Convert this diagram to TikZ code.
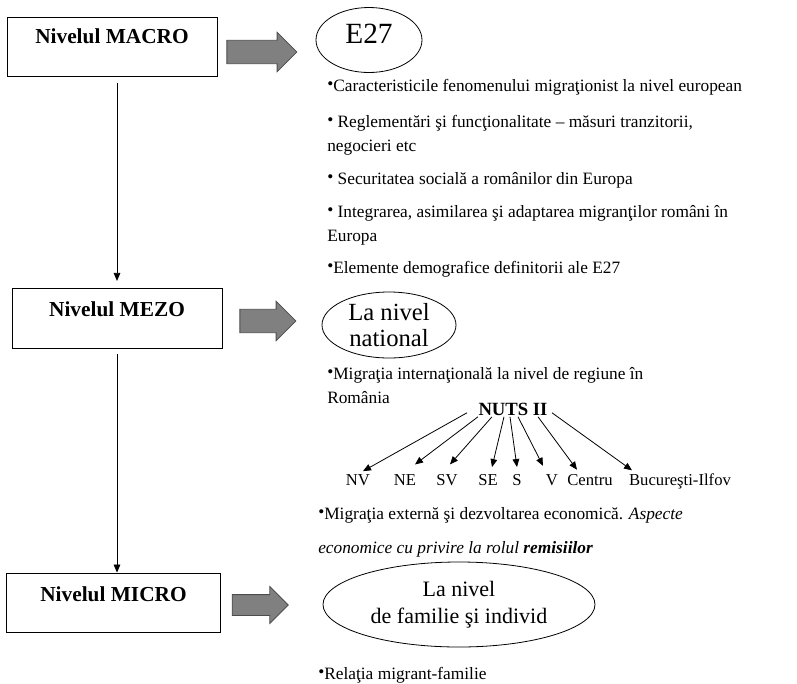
\documentclass[tikz,border=0pt]{standalone}
\usepackage{fontspec}
\setmainfont{Liberation Serif}
\usetikzlibrary{shapes.geometric,shapes.arrows,arrows.meta}

\newcommand{\blt}{\raisebox{1.3pt}{\textbullet}}

\tikzset{
    level/.style={draw, line width=0.7pt, minimum width=157.5pt, minimum height=44.25pt,
        font=\fontsize{16}{19}\selectfont\bfseries, text height=11pt, text depth=13pt},
    bigarrow/.style={single arrow, draw=black!70, fill=black!50, line width=0.6pt,
        inner xsep=0pt, inner ysep=8.5pt, text height=0pt, text depth=0pt,
        single arrow head extend=6pt},
    oval/.style={ellipse, draw, line width=0.6pt, inner sep=0pt},
    item/.style={anchor=base west, align=left, inner sep=0pt, font=\fontsize{13}{17.5}\selectfont},
    region/.style={anchor=base, inner sep=1pt, font=\fontsize{12.5}{15}\selectfont},
    down/.style={-{Triangle[length=6pt,width=5pt]}, line width=0.6pt}
}

\begin{document}
\begin{tikzpicture}[x=0.75pt, y=-0.75pt]
    \useasboundingbox (0,0) rectangle (797,683);

    %% The three levels
    \node[level, text depth=15pt] (macro) at (112,46.5) {Nivelul MACRO};
    \node[level, minimum height=45pt] (mezo) at (117,318) {Nivelul MEZO};
    \node[level, minimum width=160pt] (micro) at (113.5,602.5) {Nivelul MICRO};
    \draw[down, shorten <=5pt, shorten >=5pt] (macro.south -| mezo.north) -- (mezo.north);
    \draw[down, shorten <=4pt] (mezo.south) -- (mezo.south |- micro.north);

    %% Big grey arrows
    \node[bigarrow, minimum height=52.5pt] (macroarrow) at (256,52) {};
    \node[bigarrow, minimum height=42pt] (mezoarrow) at (262,321) {};
    \node[bigarrow, minimum height=42pt, inner ysep=7.5pt] (microarrow) at (255,605) {};

    %% Ovals
    \node[oval, minimum width=79.5pt, minimum height=48.75pt, font=\fontsize{22}{26}\selectfont,
        text height=15pt, text depth=10pt] (eu) at (369,40) {E27};
    \node[oval, minimum width=100.5pt, minimum height=49.5pt, align=center,
        font=\fontsize{18.5}{19}\selectfont] (national) at (389,325) {La nivel\\national};
    \node[oval, minimum width=204pt, minimum height=63.75pt, align=center,
        font=\fontsize{16.5}{20}\selectfont] (familie) at (459,604.5) {La nivel\\de familie şi individ};

    %% What is studied at the macro level
    \node[item] (eu1) at (327,91) {\blt Caracteristicile fenomenului migraţionist la nivel european};
    \node[item] (eu2) at (327,151) {\blt\ Reglementări şi funcţionalitate -- măsuri tranzitorii,\\negocieri etc};
    \node[item] (eu3) at (327,184) {\blt\ Securitatea socială a românilor din Europa};
    \node[item] (eu4) at (327,241) {\blt\ Integrarea, asimilarea şi adaptarea migranţilor români în\\Europa};
    \node[item] (eu5) at (327,273) {\blt Elemente demografice definitorii ale E27};

    %% Mezo level
    \node[item] (nat1) at (327,403) {\blt Migraţia internaţională la nivel de regiune în\\România};
    \node[anchor=base, inner sep=1pt, fill=white, font=\fontsize{14}{16}\selectfont\bfseries] (nuts) at (513,415) {NUTS II};
    \node[region] (nv) at (358,485) {NV};
    \node[region] (ne) at (405,485) {NE};
    \node[region] (sv) at (447,485) {SV};
    \node[region] (se) at (488,485) {SE};
    \node[region] (s) at (517,485) {S};
    \node[region] (v) at (552,485) {V};
    \node[region] (centru) at (590,485) {Centru};
    \node[region] (bi) at (680,485) {Bucureşti-Ilfov};
    \draw[down] ([xshift=-34.5pt,yshift=3pt]nuts.south) -- ([xshift=3.75pt,yshift=1pt]nv.north);
    \draw[down] ([xshift=-26.25pt]nuts.south) -- ([xshift=7.5pt,yshift=6pt]ne.north);
    \draw[down] ([xshift=-15.75pt]nuts.south) -- ([xshift=2.25pt,yshift=6pt]sv.north);
    \draw[down] ([xshift=-6.75pt]nuts.south) -- ([xshift=3pt,yshift=4pt]se.north);
    \draw[down] ([xshift=-2.25pt]nuts.south) -- ([yshift=4pt]s.north);
    \draw[down] ([xshift=3.75pt]nuts.south) -- ([xshift=-6.75pt,yshift=5pt]v.north);
    \draw[down] ([xshift=18.75pt]nuts.south) -- ([xshift=-9.75pt,yshift=2pt]centru.north);
    \draw[down] ([xshift=29.25pt,yshift=3pt]nuts.south) -- ([xshift=-36pt,yshift=1pt]bi.north);

    \node[item, font=\fontsize{13}{25}\selectfont] (nat2) at (318,553) {\blt Migraţia externă şi dezvoltarea economică. \textit{Aspecte}\\\textit{economice cu privire la rolul \textbf{remisiilor}}};

    %% Micro level
    \node[item] (fam1) at (318,679) {\blt Relaţia migrant-familie};
\end{tikzpicture}
\end{document}
